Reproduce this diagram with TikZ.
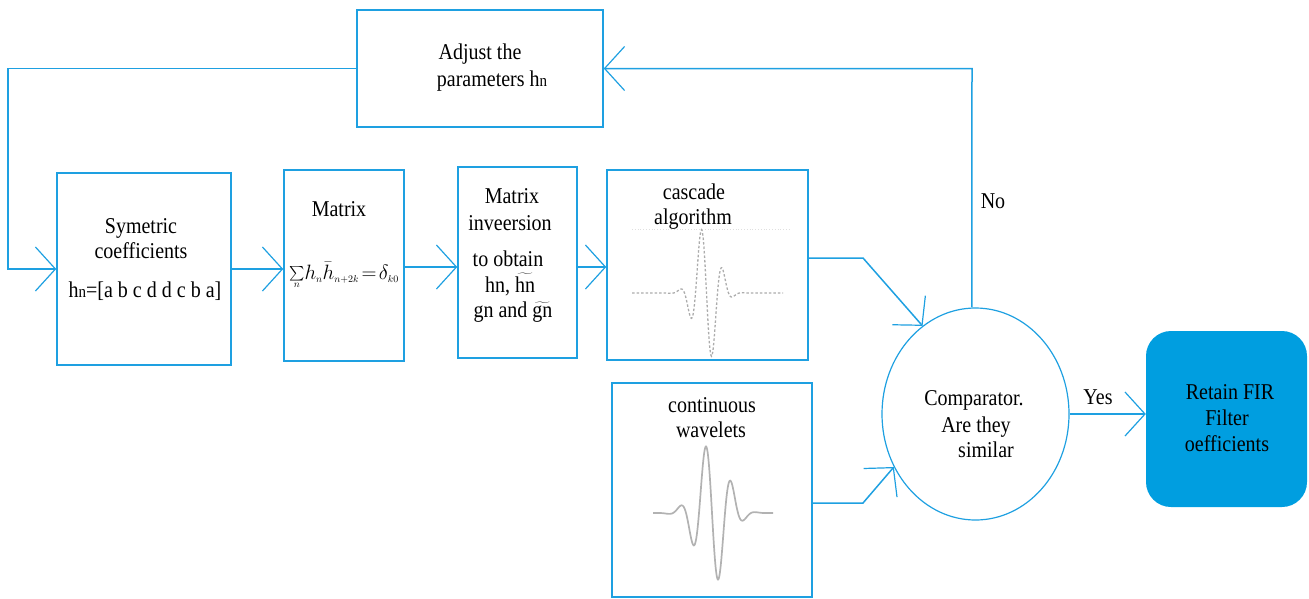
\documentclass[tikz,border=0pt]{standalone}
\usepackage{graphicx}
\usepackage{fontspec}
\setmainfont{Liberation Serif}
\usetikzlibrary{arrows.meta,shapes.geometric}
\definecolor{lineblue}{RGB}{30,160,225}
\definecolor{fillblue}{RGB}{0,158,224}
\newcommand{\hnx}{h{\fontsize{15}{15}\selectfont n}}
\newcommand{\T}[1]{\scalebox{1}[1.13]{#1}}
\begin{document}
\begin{tikzpicture}[x=1pt,y=-1pt,
  box/.style={draw=lineblue,line width=1.5pt,rectangle,inner sep=0pt},
  txt/.style={font=\fontsize{20}{24}\selectfont,inner sep=0pt,anchor=base},
  arr/.style={draw=lineblue,line width=1.5pt,-{Straight Barb[length=20pt,width=44pt,line width=1.2pt]}},
  conn/.style={draw=lineblue,line width=1.5pt}]
\useasboundingbox (0,0) rectangle (1309,598);
% boxes
\node[box,minimum width=246pt,minimum height=117pt] (adj) at (480,68.5) {};
\node[box,minimum width=174pt,minimum height=192pt] (sym) at (144,269) {};
\node[box,minimum width=120pt,minimum height=191pt] (mat) at (344,265.5) {};
\node[box,minimum width=119pt,minimum height=191pt] (inv) at (517.5,262.5) {};
\node[box,minimum width=201pt,minimum height=190pt] (cas) at (707.5,265) {};
\node[box,minimum width=200pt,minimum height=214pt] (cont) at (712,490) {};
\node[draw=lineblue,line width=1.2pt,ellipse,minimum width=187pt,minimum height=212pt,inner sep=0pt] (cmp) at (975.5,414) {};
\node[fill=fillblue,rounded corners=25pt,minimum width=161pt,minimum height=176pt,inner sep=0pt] (ret) at (1226.5,419) {};
% texts
\node[txt] (t1) at (480,59) {\T{Adjust the}};
\node[txt] (t2) at (492,86) {\T{parameters \hnx}};
\node[txt] (t3) at (141,233) {\T{Symetric}};
\node[txt] (t4) at (141,258) {\T{coefficients}};
\node[txt] (t5) at (145,297) {\T{\hnx=[a b c d d c b a]}};
\node[txt] (t6) at (339,216) {\T{Matrix}};
\node[inner sep=0pt,anchor=base,font=\fontsize{20}{24}\selectfont] (t7) at (344,279) {$\mathop{\vcenter{\hbox{\scalebox{1.45}{$\sum$}}}}\limits_{\scriptscriptstyle n}\! h_{\scriptscriptstyle n}\bar{h}_{\scriptscriptstyle n+2k}\!=\!\delta_{\scriptscriptstyle k0}$};
\node[txt] (t8) at (512,203) {\T{Matrix}};
\node[txt] (t9) at (510,230) {\T{inveersion}};
\node[txt] (t10) at (508,266) {\T{to obtain}};
\node[txt] (t11) at (510,292) {\T{hn, $\widetilde{\mbox{hn}}$}};
\node[txt] (t12) at (513,317) {\T{gn and $\widetilde{\mbox{gn}}$}};
\node[txt] (t13) at (694,199) {\T{cascade}};
\node[txt] (t14) at (693,224) {\T{algorithm}};
\node[txt] (t15) at (712,412) {\T{continuous}};
\node[txt] (t16) at (711,437) {\T{wavelets}};
\node[txt] (t17) at (974,405) {\T{Comparator.}};
\node[txt] (t18) at (976,432) {\T{Are they}};
\node[txt] (t19) at (986,457) {\T{similar}};
\node[txt] (t20) at (1230,399) {\T{Retain FIR}};
\node[txt] (t21) at (1227,425) {\T{Filter}};
\node[txt] (t22) at (1227,451) {\T{oefficients}};
\node[txt] (no) at (993,208) {\T{No}};
\node[txt] (yes) at (1098,404) {\T{Yes}};
% wavelet curves
\draw[gray!25,line width=0.8pt,dotted] (632,229) -- (790,229);
\draw[gray!65,line width=1.3pt,dash pattern=on 2.5pt off 2pt] plot[domain=632:783,samples=240] (\x,{293+71*exp(-((\x-706.5)/15.5)^2)*sin(0.2856*(\x-706.5) r)});
\draw[gray!60,line width=1.7pt] plot[domain=653:773,samples=240] (\x,{513+72.8*exp(-((\x-712)/20.9)^2)*sin(0.2417*(\x-712) r)});
% connectors
\coordinate (fbL) at (8,68.5);
\coordinate (k1) at (863,258);
\coordinate (k2) at (863,503);
\coordinate (noTop) at (972,68.5);
\draw[arr] (adj.west) -- (fbL) |- (sym.west);
\draw[arr] (sym.east) -- (sym.east -| mat.west);
\draw[arr] (mat.east |- 0,267) -- (inv.west |- 0,267);
\draw[arr] (inv.east |- 0,267) -- (cas.west |- 0,267);
\draw[arr] (cas.east |- k1) -- (k1) -- (cmp.121);
\draw[arr] (cont.east |- k2) -- (k2) -- (cmp.213);
\draw[arr] (cmp.92) -- (noTop) -- (adj.east);
\draw[arr] (cmp.east) -- (cmp.east -| ret.west);
\end{tikzpicture}
\end{document}
